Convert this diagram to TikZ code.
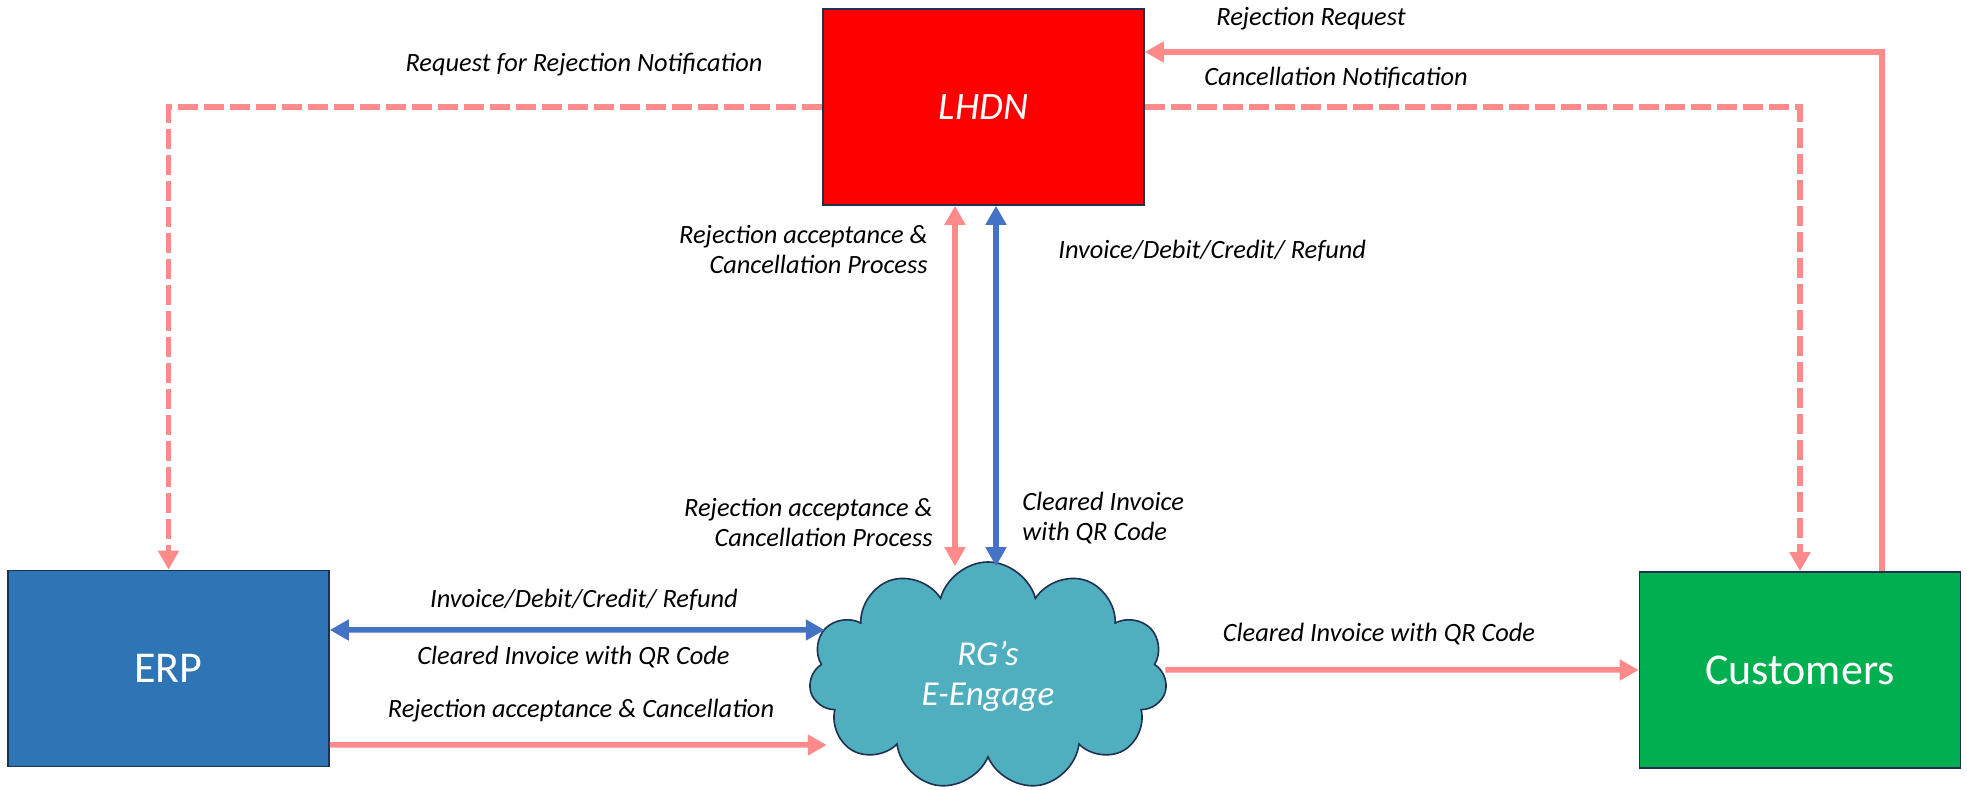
\documentclass[tikz,border=0pt]{standalone}
\usepackage{fontspec}
\setmainfont{Carlito}
\usetikzlibrary{shapes.symbols, arrows.meta, calc}
\definecolor{lhdnred}{HTML}{FF0000}
\definecolor{erpblue}{HTML}{2E75B6}
\definecolor{custgreen}{HTML}{00B050}
\definecolor{cloudteal}{HTML}{4FAFBE}
\definecolor{edgenavy}{HTML}{1F3050}
\definecolor{flowpink}{HTML}{FF8A8A}
\definecolor{flowblue}{HTML}{4472C4}
\tikzstyle{system} = [rectangle, minimum width=160.5pt, minimum height=98pt, inner sep=0pt, draw=edgenavy, line width=0.8pt, text=white, text centered]
\tikzstyle{hub} = [cloud, cloud puffs=11, aspect=1.56, minimum width=179pt, minimum height=114pt, inner sep=0pt, draw=edgenavy, line width=0.8pt, fill=cloudteal, text=white, align=center, font=\fontsize{17.5}{20}\selectfont\itshape]
\tikzstyle{pinkarrow} = [draw=flowpink, line width=2.75pt, ->]
\tikzstyle{pinkdash} = [pinkarrow, dash pattern=on 10pt off 3pt]
\tikzstyle{bluearrow} = [draw=flowblue, line width=2.75pt, <->]
\tikzstyle{flowlabel} = [font=\fontsize{13.2}{15}\selectfont\itshape, inner sep=0pt]

\begin{document}
\begin{tikzpicture}[x=0.5pt, y=-0.5pt, >={Triangle[length=9.5pt,width=10pt]}]
	\useasboundingbox (0,0) rectangle (1967,790);
	% systems
	\node (lhdn) [system, fill=lhdnred, font=\fontsize{19.4}{20}\selectfont\itshape] at (983.5,107) {LHDN};
	\node (erp) [system, fill=erpblue, font=\fontsize{22}{24}\selectfont] at (168.5,668.5) {ERP};
	\node (cust) [system, fill=custgreen, font=\fontsize{22}{24}\selectfont] at (1800,670) {Customers};
	\node (cloud) [hub] at (988,676) {RG’s\\E-Engage};

	% LHDN to ERP / customers
	\draw [pinkdash] (lhdn.west) -| (erp.north);
	\node (l1) [flowlabel] at (584,65) {Request for Rejection Notification};
	\draw [pinkdash] (lhdn.east) -| (cust.north);
	\node (l2) [flowlabel, anchor=west] at (1204,78) {Cancellation Notification};
	\draw [pinkarrow] ($(cust.north)+(82,0)$) |- ($(lhdn.east)+(0,-55)$);
	\node (l3) [flowlabel, anchor=west] at (1216,19) {Rejection Request};

	% LHDN and cloud
	\draw [pinkarrow, <->] ($(lhdn.south)+(-28.5,0)$) -- ($(cloud.north)+(-33,5)$);
	\draw [bluearrow] ($(lhdn.south)+(12.5,0)$) -- ($(cloud.north)+(8,5)$);
	\node (l4) [flowlabel, anchor=east, align=right] at (928,249) {Rejection acceptance \&\\Cancellation Process};
	\node (l5) [flowlabel, anchor=west] at (1058,251) {Invoice/Debit/Credit/ Refund};
	\node (l6) [flowlabel, anchor=east, align=right] at (933,522) {Rejection acceptance \&\\Cancellation Process};
	\node (l7) [flowlabel, anchor=west, align=left] at (1022,518) {Cleared Invoice\\with QR Code};

	% ERP and cloud
	\draw [bluearrow] ($(erp.east)+(0,-38.5)$) -- ($(cloud.west)+(14,-46)$);
	\node (l8) [flowlabel] at (584,600) {Invoice/Debit/Credit/ Refund};
	\node (l9) [flowlabel] at (573.5,657) {Cleared Invoice with QR Code};
	\draw [pinkarrow] ($(erp.east)+(0,76.5)$) -- ($(cloud.west)+(16,69)$);
	\node (l10) [flowlabel] at (581,711) {Rejection acceptance \& Cancellation};

	% cloud to customers
	\draw [pinkarrow] ($(cloud.east)+(0,-6)$) -- (cust.west);
	\node (l11) [flowlabel] at (1379,634) {Cleared Invoice with QR Code};
\end{tikzpicture}
\end{document}
